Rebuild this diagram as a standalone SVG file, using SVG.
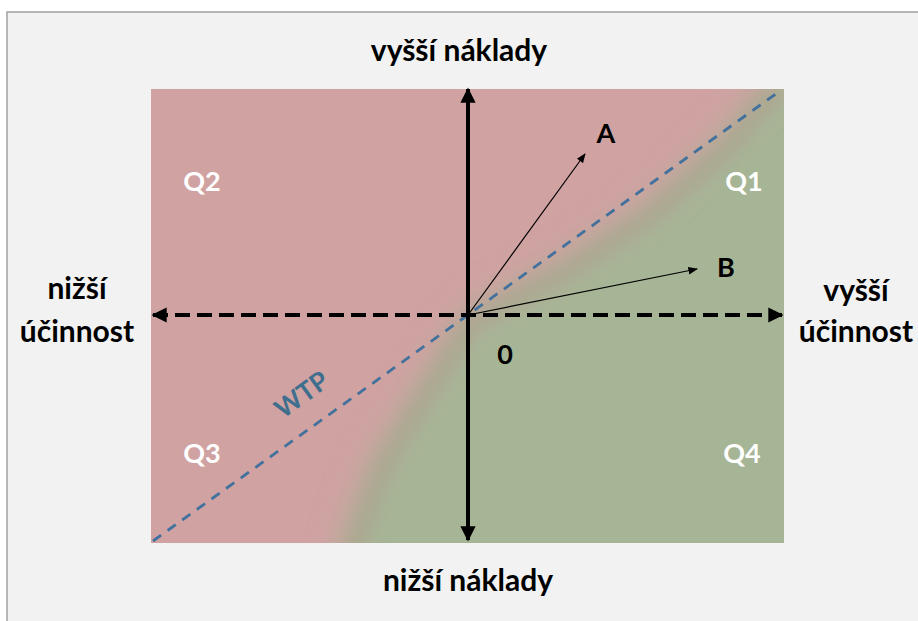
<svg xmlns="http://www.w3.org/2000/svg" width="918" height="621" viewBox="0 0 918 621">
<defs>
<style>
.lbl{font-family:Lato,"Open Sans","Liberation Sans",sans-serif;font-weight:bold;fill:#000;}
.ax{font-size:30px;text-anchor:middle;}
.q{font-family:Lato,"Open Sans","Liberation Sans",sans-serif;font-weight:bold;fill:#fff;font-size:27px;text-anchor:middle;}
.pt{font-size:27px;text-anchor:middle;}
</style>
<clipPath id="plot"><rect x="151" y="89" width="633" height="454"/></clipPath>
<filter id="blur" x="-20%" y="-20%" width="140%" height="140%"><feGaussianBlur stdDeviation="18"/></filter>
<filter id="blur2" x="-20%" y="-20%" width="140%" height="140%"><feGaussianBlur stdDeviation="10"/></filter>
<marker id="hv" viewBox="0 0 10 10" refX="9" refY="5" markerWidth="3.8" markerHeight="3.8" orient="auto-start-reverse" markerUnits="strokeWidth"><path d="M0,0 L10,5 L0,10 z" fill="#000"/></marker>
<marker id="hs" viewBox="0 0 10 10" refX="9" refY="5" markerWidth="8" markerHeight="8" orient="auto" markerUnits="strokeWidth"><path d="M0,1 L10,5 L0,9 z" fill="#000"/></marker>
</defs>
<rect width="918" height="621" fill="#fff"/>
<rect x="7" y="12" width="930" height="630" fill="#f2f2f2" stroke="#a0a0a0" stroke-width="1.5"/>
<g id="plot-area">
<rect x="151" y="89" width="633" height="454" fill="#d0a2a2"/>
<g clip-path="url(#plot)">
<path filter="url(#blur)" fill="#a6b595" d="M345,580 L345,543 L375,465 L418,395 L468,318 L560,268 L650,208 L720,143 L772,85 L830,40 L830,600 Z"/>
<path filter="url(#blur2)" fill="none" stroke="#a29f85" stroke-width="14" stroke-opacity="0.65" d="M355,580 L355,543 L384,465 L425,395 L473,320 L565,272 L655,212 L727,148 L780,85"/>
</g>
</g>
<g id="connectors">
<line id="wtp-line" x1="153" y1="541" x2="777" y2="93" stroke="#41719c" stroke-width="2.8" stroke-dasharray="10,8"/>
<line id="arrow-A" x1="468" y1="315" x2="585" y2="154" stroke="#000" stroke-width="1.2" marker-end="url(#hs)"/>
<line id="arrow-B" x1="468" y1="315" x2="697" y2="269" stroke="#000" stroke-width="1.2" marker-end="url(#hs)"/>
<line id="axis-x" x1="153" y1="315" x2="782" y2="315" stroke="#000" stroke-width="4" stroke-dasharray="15,7" marker-start="url(#hv)" marker-end="url(#hv)"/>
<line id="axis-y" x1="468" y1="89" x2="468" y2="540" stroke="#000" stroke-width="4" marker-start="url(#hv)" marker-end="url(#hv)"/>
</g>
<g id="label-top"><text class="lbl ax" x="459" y="61">vyšší náklady</text></g>
<g id="label-bottom"><text class="lbl ax" x="468" y="591">nižší náklady</text></g>
<g id="label-left"><text class="lbl ax" x="77" y="299">nižší</text><text class="lbl ax" x="77" y="342">účinnost</text></g>
<g id="label-right"><text class="lbl ax" x="856" y="301">vyšší</text><text class="lbl ax" x="856" y="342">účinnost</text></g>
<g id="Q1"><text class="q" x="744" y="191">Q1</text></g>
<g id="Q2"><text class="q" x="202" y="191">Q2</text></g>
<g id="Q3"><text class="q" x="202" y="463">Q3</text></g>
<g id="Q4"><text class="q" x="742" y="463">Q4</text></g>
<g id="A"><text class="lbl pt" x="606" y="143">A</text></g>
<g id="B"><text class="lbl pt" x="726" y="277">B</text></g>
<g id="origin"><text class="lbl pt" x="505" y="364">0</text></g>
<g id="WTP"><text transform="translate(307,402) rotate(-36)" font-family="Lato,'Open Sans','Liberation Sans',sans-serif" font-weight="bold" font-size="26" fill="#3f6f8e" text-anchor="middle">WTP</text></g>
</svg>
